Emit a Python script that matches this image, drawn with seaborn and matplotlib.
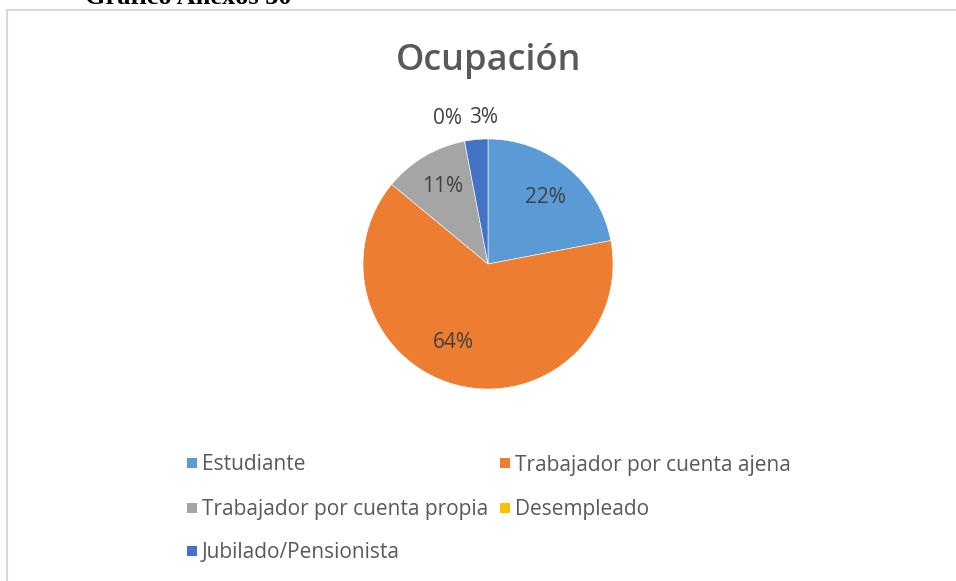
import matplotlib
matplotlib.use("Agg")
import matplotlib.pyplot as plt
from matplotlib.patches import Rectangle
import numpy as np
import seaborn as sns

# ---- data ----
categories = ["Estudiante", "Trabajador por cuenta ajena", "Trabajador por cuenta propia",
              "Desempleado", "Jubilado/Pensionista"]
values = [22, 64, 11, 0, 3]
pct_labels = ["22%", "64%", "11%", "0%", "3%"]
title = "Ocupación"
caption = "Gráfico Anexos 30"

colors = sns.color_palette(["#5B9BD5", "#ED7D31", "#A5A5A5", "#FFC000", "#4472C4"])

sns.set_style("white")
plt.rcParams['font.family'] = ['Open Sans', 'DejaVu Sans']

W, H = 956, 581
fig = plt.figure(figsize=(W / 100, H / 100), dpi=100)
fig.patch.set_facecolor("white")

def fx(x):
    return x / W

def fy(y):
    return 1 - y / H

# chart border (extends beyond right/bottom)
fig.add_artist(Rectangle((fx(7), fy(600)), fx(1000), 590 / H, transform=fig.transFigure,
                         fill=False, edgecolor="#d9d9d9", linewidth=1.5))

# cut caption at top
fig.text(fx(85), fy(4), caption, fontsize=19, fontweight="bold",
         family=["Liberation Serif", "DejaVu Serif"], color="black",
         ha="left", va="baseline")

# pie axes
cx, cy, r = 488, 264, 125
ax = fig.add_axes([fx(cx - r), fy(cy + r), 2 * r / W, 2 * r / H])
wedges, _ = ax.pie(values, colors=colors, startangle=90, counterclock=False,
                   wedgeprops=dict(edgecolor="white", linewidth=0.4))
ax.set_xlim(-1, 1)
ax.set_ylim(-1, 1)
ax.set_aspect("equal")
ax.axis("off")

label_r = [0.70, 0.69, 0.72, 1.21, 1.175]
label_dtheta = [-1, -9.5, 0, 4.8, -3.5]
for w, lab, lr, dt in zip(wedges, pct_labels, label_r, label_dtheta):
    th = np.deg2rad((w.theta1 + w.theta2) / 2 + dt)
    ax.text(lr * np.cos(th), lr * np.sin(th), lab, ha="center", va="center",
            fontsize=15, color="#404040", clip_on=False)

# title
fig.text(fx(489), fy(61), title, fontsize=26, fontweight="semibold",
         color="#595959", ha="center", va="center")

# legend (row-major, two columns)
col_x = [187, 500]
row_y = [465, 510, 553]
for i, (cat, col) in enumerate(zip(categories, colors)):
    rr, cc = divmod(i, 2)
    x, y = col_x[cc], row_y[rr]
    fig.add_artist(Rectangle((fx(x), fy(y + 3)), 10 / W, 10 / H, transform=fig.transFigure,
                             facecolor=col, edgecolor="none"))
    fig.text(fx(x + 15), fy(y), cat, fontsize=15, color="#595959",
             ha="left", va="center")

fig.savefig("out.png", dpi=100, facecolor="white")
